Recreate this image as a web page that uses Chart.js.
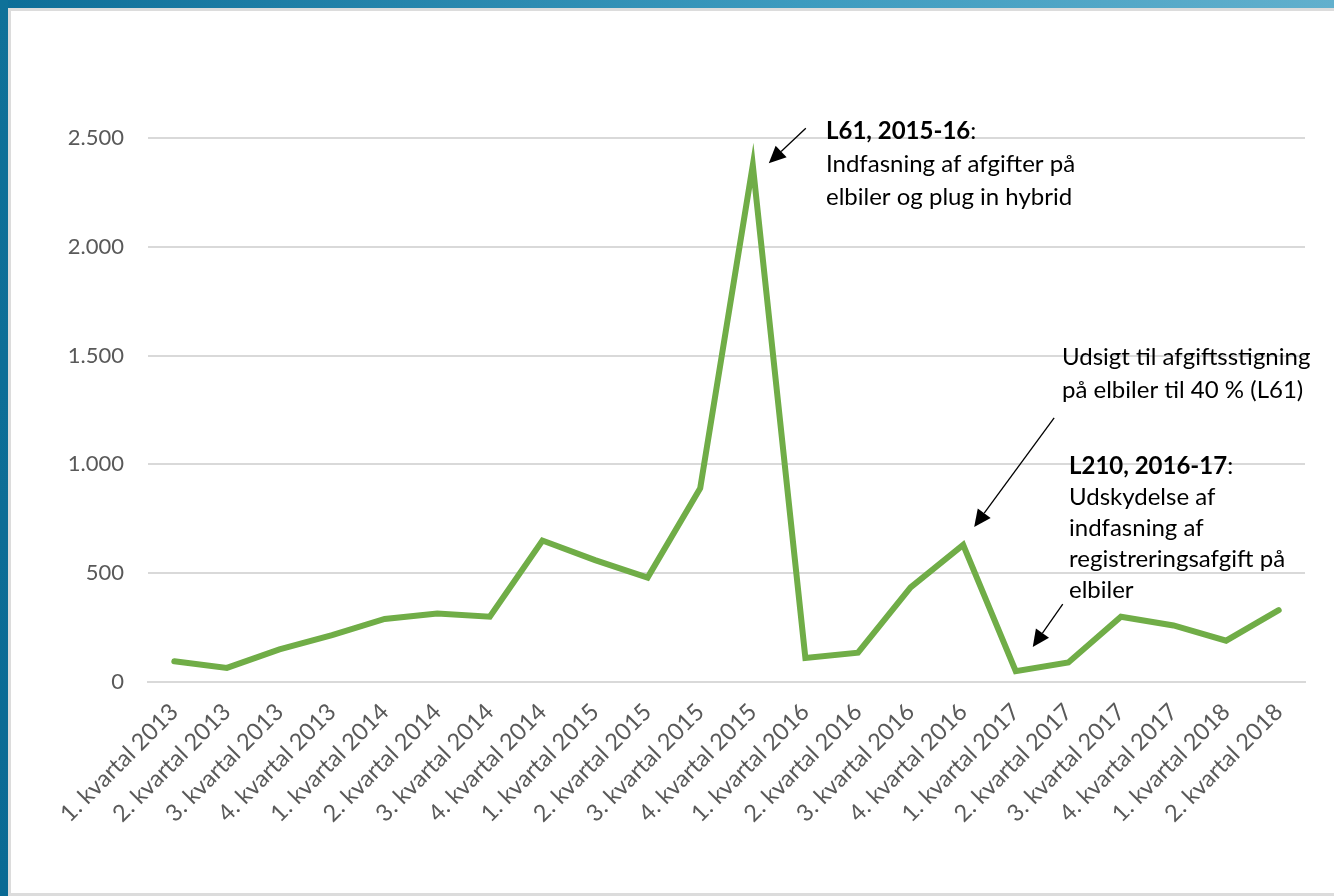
<!DOCTYPE html>
<html>
<head>
<meta charset="utf-8">
<script src="https://cdn.jsdelivr.net/npm/chart.js@4"></script>
<style>
  html, body { margin: 0; padding: 0; background: #fff; overflow: hidden; }
  #wrap { position: relative; width: 1334px; height: 896px; }
  #chart { position: absolute; left: 0; top: 0; }
  .topbar { position: absolute; left: 0; top: 0; width: 1334px; height: 8px;
    background: linear-gradient(to right, #0d6e98, #3d9bbf 60%, #62b0cd); }
  .topshade { position: absolute; left: 8px; top: 8px; width: 1326px; height: 3px; background: #dcdcdc; }
  .leftbar { position: absolute; left: 0; top: 0; width: 8px; height: 896px;
    background: linear-gradient(to bottom, #0f7199, #0a6a94); }
  .leftshade { position: absolute; left: 8px; top: 8px; width: 3px; height: 888px; background: #dcdcdc; }
  .bottomshade { position: absolute; left: 8px; top: 893px; width: 1326px; height: 3px; background: #dcdcdc; }
</style>
</head>
<body>
<div id="wrap">
  <canvas id="chart" width="1334" height="896"></canvas>
  <div class="topbar"></div>
  <div class="topshade"></div>
  <div class="leftbar"></div>
  <div class="leftshade"></div>
  <div class="bottomshade"></div>
</div>
<script>
const quarters = [
  "1. kvartal 2013", "2. kvartal 2013", "3. kvartal 2013", "4. kvartal 2013",
  "1. kvartal 2014", "2. kvartal 2014", "3. kvartal 2014", "4. kvartal 2014",
  "1. kvartal 2015", "2. kvartal 2015", "3. kvartal 2015", "4. kvartal 2015",
  "1. kvartal 2016", "2. kvartal 2016", "3. kvartal 2016", "4. kvartal 2016",
  "1. kvartal 2017", "2. kvartal 2017", "3. kvartal 2017", "4. kvartal 2017",
  "1. kvartal 2018", "2. kvartal 2018"
];
const values = [95, 65, 150, 215, 290, 315, 300, 650, 560, 480, 890, 2375,
  110, 135, 435, 630, 50, 90, 300, 260, 190, 330];
const yTicks = [0, 500, 1000, 1500, 2000, 2500];

const FONT = "Lato, 'Open Sans', sans-serif";

// annotation texts: each line has an optional bold part (b) and a regular part (t)
const notes = [
  { x: 826, y: 131, lh: 33, lines: [
    { b: "L61, 2015-16", t: ":" },
    { t: "Indfasning af afgifter på" },
    { t: "elbiler og plug in hybrid" }] },
  { x: 1062, y: 357, lh: 33, lines: [
    { t: "Udsigt til afgiftsstigning" },
    { t: "på elbiler til 40 % (L61)" }] },
  { x: 1069, y: 466, lh: 31, lines: [
    { b: "L210, 2016-17", t: ":" },
    { t: "Udskydelse af" },
    { t: "indfasning af" },
    { t: "registreringsafgift på" },
    { t: "elbiler" }] }
];
// arrows: tip offset from data point, tail offset from tip
const arrows = [
  { idx: 11, dx: 16, dy: -2, tx: 37, ty: -35 },
  { idx: 15, dx: 11, dy: -18, tx: 80, ty: -109 },
  { idx: 16, dx: 17, dy: -24, tx: 30, ty: -43 }
];

function drawArrow(ctx, x1, y1, x2, y2) {
  const ang = Math.atan2(y2 - y1, x2 - x1);
  const len = 17, half = 8;
  const bx = x2 - len * Math.cos(ang), by = y2 - len * Math.sin(ang);
  ctx.beginPath();
  ctx.moveTo(x1, y1);
  ctx.lineTo(bx, by);
  ctx.strokeStyle = "#000";
  ctx.lineWidth = 1.3;
  ctx.stroke();
  ctx.beginPath();
  ctx.moveTo(x2, y2);
  ctx.lineTo(bx + half * Math.sin(ang), by - half * Math.cos(ang));
  ctx.lineTo(bx - half * Math.sin(ang), by + half * Math.cos(ang));
  ctx.closePath();
  ctx.fillStyle = "#000";
  ctx.fill();
}

const annotate = {
  id: "annotate",
  afterDraw(chart) {
    const ctx = chart.ctx;
    const xs = chart.scales.x, ys = chart.scales.y;
    ctx.save();
    arrows.forEach(a => {
      const px = xs.getPixelForValue(a.idx) + a.dx;
      const py = ys.getPixelForValue(values[a.idx]) + a.dy;
      drawArrow(ctx, px + a.tx, py + a.ty, px, py);
    });
    ctx.textBaseline = "middle";
    ctx.textAlign = "left";
    ctx.fillStyle = "#000";
    notes.forEach(n => {
      n.lines.forEach((ln, i) => {
        const y = n.y + i * n.lh;
        let x = n.x;
        if (ln.b) {
          ctx.font = "bold 24px " + FONT;
          ctx.fillText(ln.b, x, y);
          x += ctx.measureText(ln.b).width;
        }
        ctx.font = "24px " + FONT;
        ctx.fillText(ln.t, x, y);
      });
    });
    ctx.restore();
  }
};

const ctx = document.getElementById("chart").getContext("2d");
new Chart(ctx, {
  type: "line",
  data: {
    labels: quarters,
    datasets: [{
      data: values,
      borderColor: "#70ad47",
      borderWidth: 6,
      pointRadius: 0,
      tension: 0,
      fill: false,
      borderJoinStyle: "miter",
      borderCapStyle: "round"
    }]
  },
  options: {
    responsive: false,
    animation: false,
    layout: { padding: { top: 138, right: 29, left: 0, bottom: 0 } },
    plugins: { legend: { display: false }, tooltip: { enabled: false } },
    scales: {
      x: {
        offset: true,
        grid: { display: false },
        border: { display: true, color: "#d9d9d9", width: 2 },
        ticks: {
          color: "#595959",
          font: { family: FONT, size: 23.5 },
          minRotation: 45,
          maxRotation: 45,
          padding: 8,
          autoSkip: false
        },
        afterFit(scale) { scale.height = 214; }
      },
      y: {
        min: 0,
        max: 2500,
        afterBuildTicks(scale) { scale.ticks = yTicks.map(v => ({ value: v })); },
        grid: { color: "#d9d9d9", lineWidth: 2, drawTicks: false },
        border: { display: false },
        ticks: {
          color: "#595959",
          font: { family: FONT, size: 22 },
          padding: 24,
          callback: v => v.toLocaleString("da-DK")
        },
        afterFit(scale) { scale.width = 148; }
      }
    }
  },
  plugins: [annotate]
});
</script>
</body>
</html>
